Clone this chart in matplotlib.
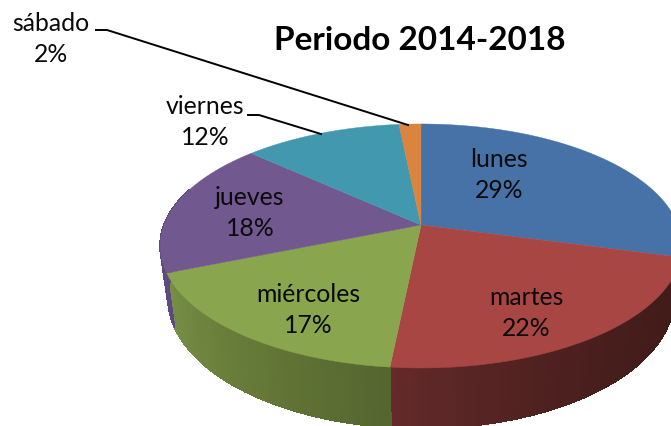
import numpy as np
import matplotlib
matplotlib.use("Agg")
import matplotlib.pyplot as plt
from matplotlib.collections import PolyCollection
from matplotlib.colors import to_rgb

dias = ["lunes", "martes", "miércoles", "jueves", "viernes", "sábado"]
valores = [29.2, 22.4, 17.2, 18.0, 11.6, 1.6]
titulo = "Periodo 2014-2018"
colores = ["#4672a8", "#a84644", "#89a54e", "#71588f", "#4198af", "#db843d"]
lado_ini = ["#2c4a70", "#421c1a", "#55662e", "#5f4a80", "#2c6575", "#8f5526"]
lado_fin = ["#2c4a70", "#642a2a", "#778f44", "#5a4a80", "#2c6575", "#8f5526"]
rampa = [1, 2.2, 1, 1, 1, 1]
pos_etiq = [(499, 175), (526, 313), (308, 310), (250, 213), (205, 122), (51, 39)]

CX, CY, A, B, K, D, SX = 421, 225, 257, 118.4, 0.172, 50, 0.97

def top(th):
    s, c = np.sin(th), np.cos(th)
    w = 1 + K * c
    return CX + A * s / w, CY - B * c / w

def low(th):
    s, c = np.sin(th), np.cos(th)
    w = 1 + K * c
    return CX + SX * A * s / w, CY - B * c / w + D / w

fig = plt.figure(figsize=(6.71, 4.26), dpi=100)
ax = fig.add_axes([0, 0, 1, 1])
ax.set_xlim(0, 671)
ax.set_ylim(426, 0)
ax.axis("off")

fr = np.cumsum([0] + valores) / sum(valores) * 2 * np.pi
for i in range(len(valores)):
    a0, a1 = fr[i], fr[i + 1]
    lo, hi = max(a0, np.pi / 2), min(a1, 1.6 * np.pi)
    if hi > lo:
        t = np.linspace(lo, hi, 60)
        polys, cols = [], []
        c0, c1 = np.array(to_rgb(lado_ini[i])), np.array(to_rgb(lado_fin[i]))
        for j in range(len(t) - 1):
            x0, y0 = top(t[j]); x1, y1 = top(t[j + 1])
            x2, y2 = low(t[j + 1]); x3, y3 = low(t[j])
            polys.append([(x0, y0), (x1, y1), (x2, y2), (x3, y3)])
            cols.append(c0 + (c1 - c0) * (j / (len(t) - 2)) ** rampa[i])
        ax.add_collection(PolyCollection(polys, facecolors=cols, edgecolors=cols,
                                         linewidths=0.6, antialiaseds=False))

for i in range(len(valores)):
    t = np.linspace(fr[i], fr[i + 1], 80)
    x, y = top(t)
    ax.fill(np.r_[CX, x], np.r_[CY, y], color=colores[i], lw=0.3)

for i, (d, v) in enumerate(zip(dias, valores)):
    ax.text(*pos_etiq[i], f"{d}\n{round(v)}%", ha="center", va="center", family="Lato",
            fontsize=17.8, color="#0a0a0a", linespacing=1.42)

ax.plot([96, 107, 408], [30, 30, 125], color="black", lw=1.4)
ax.plot([248, 259, 321], [115, 115, 134], color="black", lw=1.4)
ax.text(420, 41, titulo, ha="center", va="center", family="Lato", weight="bold",
        fontsize=24, color="black")
fig.savefig("out.png", dpi=100)
